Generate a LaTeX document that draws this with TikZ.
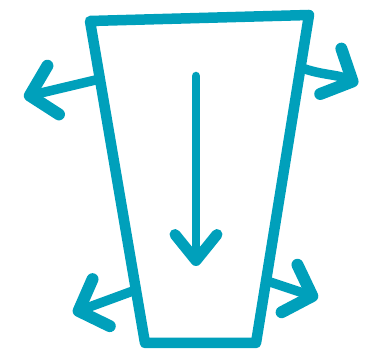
\documentclass[tikz,border=0pt]{standalone}
\usepackage{tikz}
\usetikzlibrary{arrows.meta, calc}
\definecolor{sTeal}{HTML}{00A0BB}

\tikzset{
  cupline/.style={draw=sTeal, line width=10.5pt, line join=round, line cap=round},
  pusharrow/.style={draw=sTeal, line width=9.5pt, line cap=round,
    -{Straight Barb[length=24pt, width=50pt, line width=12pt, line cap=round, line join=round]}},
  sinkarrow/.style={draw=sTeal, line width=8.5pt, line cap=round,
    -{Straight Barb[length=26pt, width=42pt, line width=11pt, line cap=round, line join=round]}}
}

\begin{document}
\begin{tikzpicture}[x=1pt, y=-1pt]
  \useasboundingbox (0,0) rectangle (370,352);
  % outline of the vessel
  \coordinate (tl) at (90,21);
  \coordinate (tr) at (309,15);
  \coordinate (br) at (256,343);
  \coordinate (bl) at (145,343);
  \draw[cupline] (tl) -- (tr) -- (br) -- (bl) -- cycle;

  % points on the walls
  \coordinate (wallUL) at ($(tl)!0.18!(bl)$);
  \coordinate (wallLL) at ($(tl)!0.835!(bl)$);
  \coordinate (wallUR) at ($(tr)!0.16!(br)$);
  \coordinate (wallLR) at ($(tr)!0.81!(br)$);

  % outward pushes
  \coordinate (endUL) at (24,97);
  \coordinate (endLL) at (73,313);
  \coordinate (endUR) at (358,84);
  \coordinate (endLR) at (318,298);
  \draw[pusharrow] (wallUL) -- (endUL);
  \draw[pusharrow] (wallLL) -- (endLL);
  \draw[pusharrow] (wallUR) to[out=-20, in=155] (endUR);
  \draw[pusharrow] (wallLR) -- (endLR);

  % downward pull
  \coordinate (sinkTop) at (196,76);
  \coordinate (sinkBot) at (196,266);
  \draw[sinkarrow] (sinkTop) -- (sinkBot);
\end{tikzpicture}
\end{document}
